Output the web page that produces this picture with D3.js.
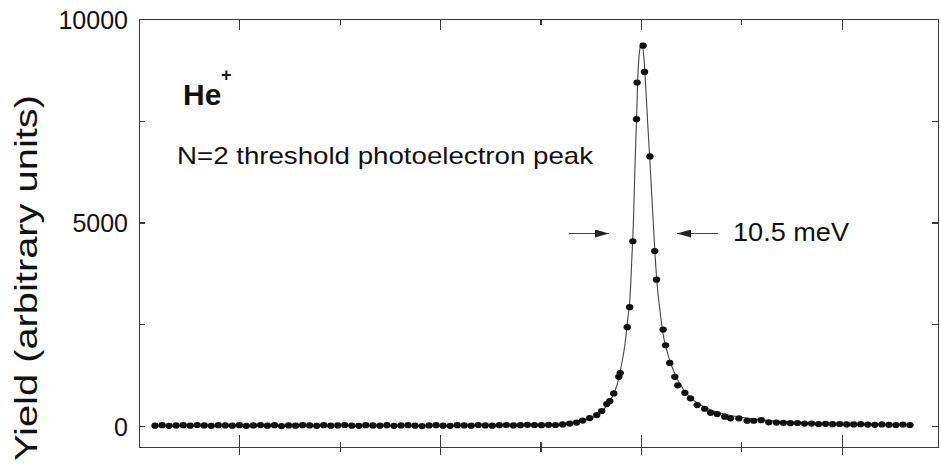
<!DOCTYPE html>
<html>
<head>
<meta charset="utf-8">
<script src="https://cdn.jsdelivr.net/npm/d3@7"></script>
<style>
  body { margin: 0; background: #fff; }
  svg { display: block; font-family: "Liberation Sans", Arial, sans-serif; }
  .frame path, .frame line { stroke: #3a3a3a; stroke-width: 1.2; shape-rendering: crispEdges; }
  .tick-label { font-size: 25px; fill: #111; }
</style>
</head>
<body>
<div id="chart"></div>
<script>
// photon energy relative to the N=2 threshold (meV) and measured yield
const energies = [
  -242, -238.5, -235, -231.5, -228, -224.5, -221, -217.5, -214, -210.5,
  -207, -203.5, -200, -196.5, -193, -189.5, -186, -182.5, -179, -175.5,
  -172, -168.5, -165, -161.5, -158, -154.5, -151, -147.5, -144, -140.5,
  -137, -133.5, -130, -126.5, -123, -119.5, -116, -112.5, -109, -105.5,
  -102, -98.5, -95, -91.5, -88, -84.5, -81, -77.5, -74, -70.5,
  -67, -63.5, -60, -56.5, -53, -49.5, -46,
  -42.5, -39, -35.5, -32, -29, -25.5, -22, -19.5, -17, -15.5,
  -13.5, -11, -10.3, -6.8, -5.6, -4, -2.2, -1.9, 1.1, 1.8,
  4.5, 6.9, 7.8, 11.1, 12.3, 14.4, 16.9, 18.4, 21.9, 24.7,
  28, 31.8, 34.7, 38, 41.8, 44.6, 48.8, 52.9, 56.2, 59.9,
  63.7, 67.5, 71, 74.5, 78, 81.5, 85, 88.5, 92, 95.5,
  99, 102.5, 106, 109.5, 113, 116.5, 120, 123.5, 127, 130.5, 134
];
const yields = [
  10, 20, 5, 15, 20, 10, 25, 15, 5, 20,
  15, 10, 20, 5, 15, 25, 10, 20, 0, 15,
  10, 20, 15, 5, 20, 10, 15, 25, 10, 5,
  20, 15, 10, 20, 5, 15, 20, 10, 0, 15,
  20, 10, 5, 20, 15, 10, 25, 15, 10, 20,
  25, 15, 20, 30, 25, 20, 30,
  25, 40, 60, 85, 135, 195, 270, 370, 540, 610,
  800, 1210, 1300, 2430, 2920, 4540, 7540, 8440, 9345, 8700,
  6625, 4300, 3595, 2370, 1985, 1550, 1210, 1000, 815, 680,
  515, 425, 325, 295, 230, 190, 190, 130, 130, 145,
  90, 85, 80, 70, 75, 60, 60, 50, 55, 45,
  50, 40, 40, 45, 35, 30, 40, 30, 25, 35, 25
];

// fitted line profile
const fitEnergies = [-242, -170, -95, -60, -41, -31, -23.4, -18.4, -14.9, -11.9, -10, -8, -6.5, -5.5, -4.5, -3.7, -3, -2.2, -1.5, -0.5,
  0.5, 1.5, 2.5, 3.5, 4.5, 5.5, 7, 8, 9.5, 10.9, 12.9, 15.4, 18.9, 23.9, 28.9, 36.3, 46.3, 58.7, 78.6, 103.5, 136];
const fitYields = [0, 0, 10, 25, 35, 100, 220, 415, 660, 1005, 1420, 1985, 2650, 3090, 4120, 5050, 6275, 7500, 8600, 9265,
  9410, 9050, 8250, 7350, 6500, 5600, 4265, 3530, 2845, 2305, 1860, 1470, 1080, 735, 540, 370, 245, 160, 85, 50, 25];

const yTicks = [0, 2500, 5000, 7500, 10000];
const yTickLabels = [0, 5000, 10000];
const xMajorTicks = [-200, -100, 0, 100];
const xMinorTicks = [-150, -50, 50];
const halfMax = 4730; // level of the FWHM arrows

class PeakChart {
  constructor(_config) {
    this.config = {
      parentElement: _config.parentElement,
      containerWidth: 941,
      containerHeight: 464,
      margin: { top: 19, right: 3, bottom: 17, left: 139 }
    };
    this.points = energies.map((e, i) => ({ e: e, y: yields[i] }));
    this.fit = fitEnergies.map((e, i) => ({ e: e, y: fitYields[i] }));
    this.initVis();
  }

  initVis() {
    let vis = this;
    const c = vis.config;
    vis.width = c.containerWidth - c.margin.left - c.margin.right;
    vis.height = c.containerHeight - c.margin.top - c.margin.bottom;

    vis.svg = d3.select(c.parentElement).append('svg')
      .attr('width', c.containerWidth)
      .attr('height', c.containerHeight);

    vis.chart = vis.svg.append('g')
      .attr('transform', `translate(${c.margin.left},${c.margin.top})`);

    vis.xScale = d3.scaleLinear().domain([-250, 148]).range([0, vis.width]);
    vis.yScale = d3.scaleLinear().domain([-515, 10000]).range([vis.height, 0]);

    vis.renderVis();
  }

  renderVis() {
    let vis = this;
    const fmt = d => yTickLabels.includes(d) ? d : '';

    // left axis: inward ticks, labels outside
    vis.chart.append('g').attr('class', 'frame')
      .call(d3.axisLeft(vis.yScale).tickValues(yTicks).tickSizeInner(-6).tickSizeOuter(0)
        .tickPadding(11).tickFormat(fmt))
      .selectAll('text').attr('class', 'tick-label').attr('dy', '0.36em');

    // right axis: inward ticks only
    vis.chart.append('g').attr('class', 'frame')
      .attr('transform', `translate(${vis.width},0)`)
      .call(d3.axisRight(vis.yScale).tickValues(yTicks.slice(0, 4)).tickSizeInner(-6).tickSizeOuter(0).tickFormat(''));

    // bottom axis: ticks cross the line
    const bottom = vis.chart.append('g').attr('transform', `translate(0,${vis.height})`);
    [[xMajorTicks, 8], [xMajorTicks, -12], [xMinorTicks, 5], [xMinorTicks, -5]].forEach(([vals, size]) => {
      bottom.append('g').attr('class', 'frame')
        .call(d3.axisBottom(vis.xScale).tickValues(vals).tickSizeInner(size).tickSizeOuter(0).tickFormat(''));
    });

    // top axis: inward ticks
    [[xMajorTicks, -11], [xMinorTicks, -6]].forEach(([vals, size]) => {
      vis.chart.append('g').attr('class', 'frame')
        .call(d3.axisTop(vis.xScale).tickValues(vals).tickSizeInner(size).tickSizeOuter(0).tickFormat(''));
    });

    // fitted curve
    const line = d3.line()
      .x(d => vis.xScale(d.e))
      .y(d => vis.yScale(d.y))
      .curve(d3.curveMonotoneX);
    vis.chart.append('path')
      .datum(vis.fit)
      .attr('d', line)
      .attr('fill', 'none')
      .attr('stroke', '#444')
      .attr('stroke-width', 1.1);

    // data points
    vis.chart.selectAll('.point')
      .data(vis.points)
      .join('ellipse')
      .attr('class', 'point')
      .attr('cx', d => vis.xScale(d.e))
      .attr('cy', d => vis.yScale(d.y))
      .attr('rx', 3.7)
      .attr('ry', 3.1)
      .attr('fill', '#111');

    // annotations
    vis.svg.append('text')
      .attr('x', 183).attr('y', 105)
      .attr('font-size', 30).attr('font-weight', 'bold').attr('fill', '#111')
      .text('He');
    vis.svg.append('text')
      .attr('x', 221).attr('y', 81)
      .attr('font-size', 18).attr('font-weight', 'bold').attr('fill', '#111')
      .text('+');

    vis.svg.append('text')
      .attr('x', 177).attr('y', 164)
      .attr('font-size', 24).attr('fill', '#111')
      .attr('textLength', 416).attr('lengthAdjust', 'spacingAndGlyphs')
      .text('N=2 threshold photoelectron peak');

    vis.svg.append('text')
      .attr('x', 733).attr('y', 241)
      .attr('font-size', 26).attr('fill', '#111')
      .attr('textLength', 116).attr('lengthAdjust', 'spacingAndGlyphs')
      .text('10.5 meV');

    // FWHM arrows
    const defs = vis.svg.append('defs');
    defs.append('marker')
      .attr('id', 'head')
      .attr('viewBox', '0 0 14 8')
      .attr('refX', 14).attr('refY', 4)
      .attr('markerWidth', 14).attr('markerHeight', 8)
      .attr('markerUnits', 'userSpaceOnUse')
      .attr('orient', 'auto')
      .append('path').attr('d', 'M0,0 L14,4 L0,8 Z').attr('fill', '#222');

    const arrowY = vis.config.margin.top + vis.yScale(halfMax);
    vis.svg.append('line')
      .attr('x1', 569).attr('x2', 609).attr('y1', arrowY).attr('y2', arrowY)
      .attr('stroke', '#444').attr('stroke-width', 1.2).attr('marker-end', 'url(#head)');
    vis.svg.append('line')
      .attr('x1', 718).attr('x2', 677).attr('y1', arrowY).attr('y2', arrowY)
      .attr('stroke', '#444').attr('stroke-width', 1.2).attr('marker-end', 'url(#head)');

    // y axis title
    vis.svg.append('text')
      .attr('transform', 'translate(37,461) rotate(-90)')
      .attr('font-size', 32).attr('fill', '#111')
      .attr('textLength', 366).attr('lengthAdjust', 'spacingAndGlyphs')
      .text('Yield (arbitrary units)');
  }
}

new PeakChart({ parentElement: '#chart' });
</script>
</body>
</html>
